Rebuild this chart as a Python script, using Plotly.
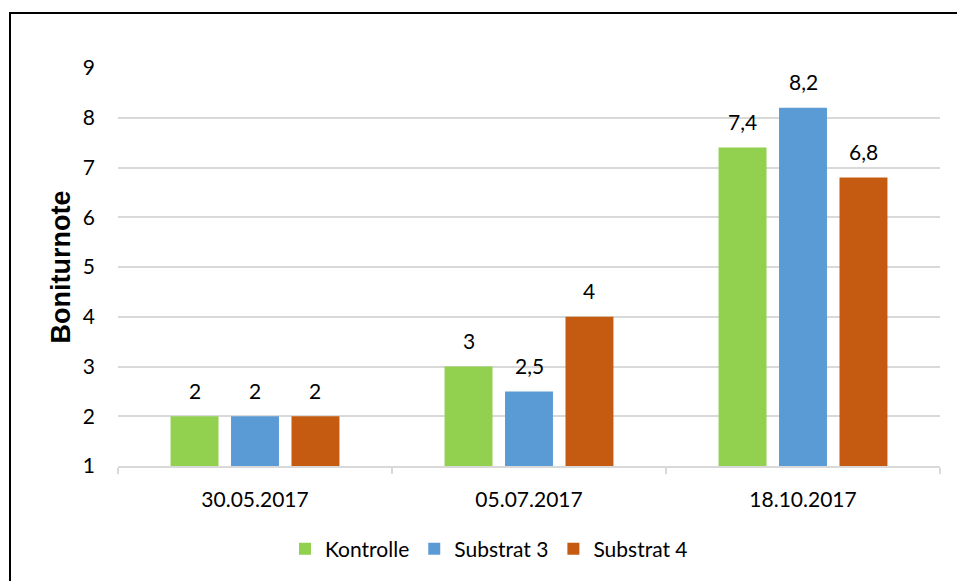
import plotly.graph_objects as go

categories = ["30.05.2017", "05.07.2017", "18.10.2017"]
series_names = ["Kontrolle", "Substrat 3", "Substrat 4"]
kontrolle = [2, 3, 7.4]
substrat3 = [2, 2.5, 8.2]
substrat4 = [2, 4, 6.8]
colors = ["#92D050", "#5B9BD5", "#C55A11"]
y_ticks = [1, 2, 3, 4, 5, 6, 7, 8, 9]

FONT = "Lato, Carlito, Calibri, sans-serif"
FS = 21

W, H = 957, 581
l, r, t, b = 118, 17, 68, 115
pw, ph = W - l - r, H - t - b
BARGAP = 0.338
BARGROUPGAP = 0.207

def px(x):
    return (x - l) / pw

def py(y):
    return (H - b - y) / ph

def fmt(v):
    return ("%g" % v).replace(".", ",")

all_series = [kontrolle, substrat3, substrat4]
fig = go.Figure()
for name, vals, col in zip(series_names, all_series, colors):
    fig.add_trace(go.Bar(
        name=name, x=categories, y=vals, marker_color=col,
        marker_line_width=0,
    ))

# data labels above bars, offset per series within each group
slot_px = pw / len(categories) * (1 - BARGAP) / len(all_series)
annotations = []
for si, vals in enumerate(all_series):
    xshift = (si - (len(all_series) - 1) / 2) * slot_px
    for cat, v in zip(categories, vals):
        annotations.append(dict(
            x=cat, y=v, xref="x", yref="y", text=fmt(v), showarrow=False,
            xanchor="center", yanchor="middle", xshift=xshift, yshift=26,
            font=dict(size=FS, family=FONT, color="#000000"),
        ))

fig.update_layout(
    width=W, height=H,
    margin=dict(l=l, r=r, t=t, b=b, pad=0),
    paper_bgcolor="white", plot_bgcolor="white",
    barmode="group", bargap=BARGAP, bargroupgap=BARGROUPGAP,
    font=dict(family=FONT, size=FS, color="#000000"),
    showlegend=True,
    legend=dict(orientation="h", x=px(489), xanchor="center", y=py(549), yanchor="middle",
                font=dict(size=FS, family=FONT), itemwidth=30, traceorder="normal",
                tracegroupgap=0),
    xaxis=dict(
        type="category", showgrid=False, showline=True, linecolor="#D9D9D9", linewidth=1.5,
        ticks="outside", tickson="boundaries", ticklen=6, tickcolor="#D9D9D9", tickwidth=1.5,
        tickfont=dict(size=FS, family=FONT), ticklabelstandoff=14,
    ),
    yaxis=dict(
        range=[1, 9], tickvals=y_ticks, showgrid=True, gridcolor="#D9D9D9", gridwidth=1.5,
        zeroline=False, showline=False, ticks="", tickfont=dict(size=FS, family=FONT),
        ticklabelstandoff=22,
        title=dict(text="<b>Boniturnote</b>", font=dict(size=27, family="Liberation Sans"),
                   standoff=4),
    ),
    annotations=annotations,
    shapes=[dict(type="rect", xref="paper", yref="paper",
                 x0=px(10), x1=px(962), y0=py(586), y1=py(13),
                 line=dict(color="black", width=2), fillcolor="rgba(0,0,0,0)", layer="above")],
)

fig.write_html("out.html", config={"displayModeBar": False},
               post_script="document.body.style.margin='0';document.body.style.padding='0';")
